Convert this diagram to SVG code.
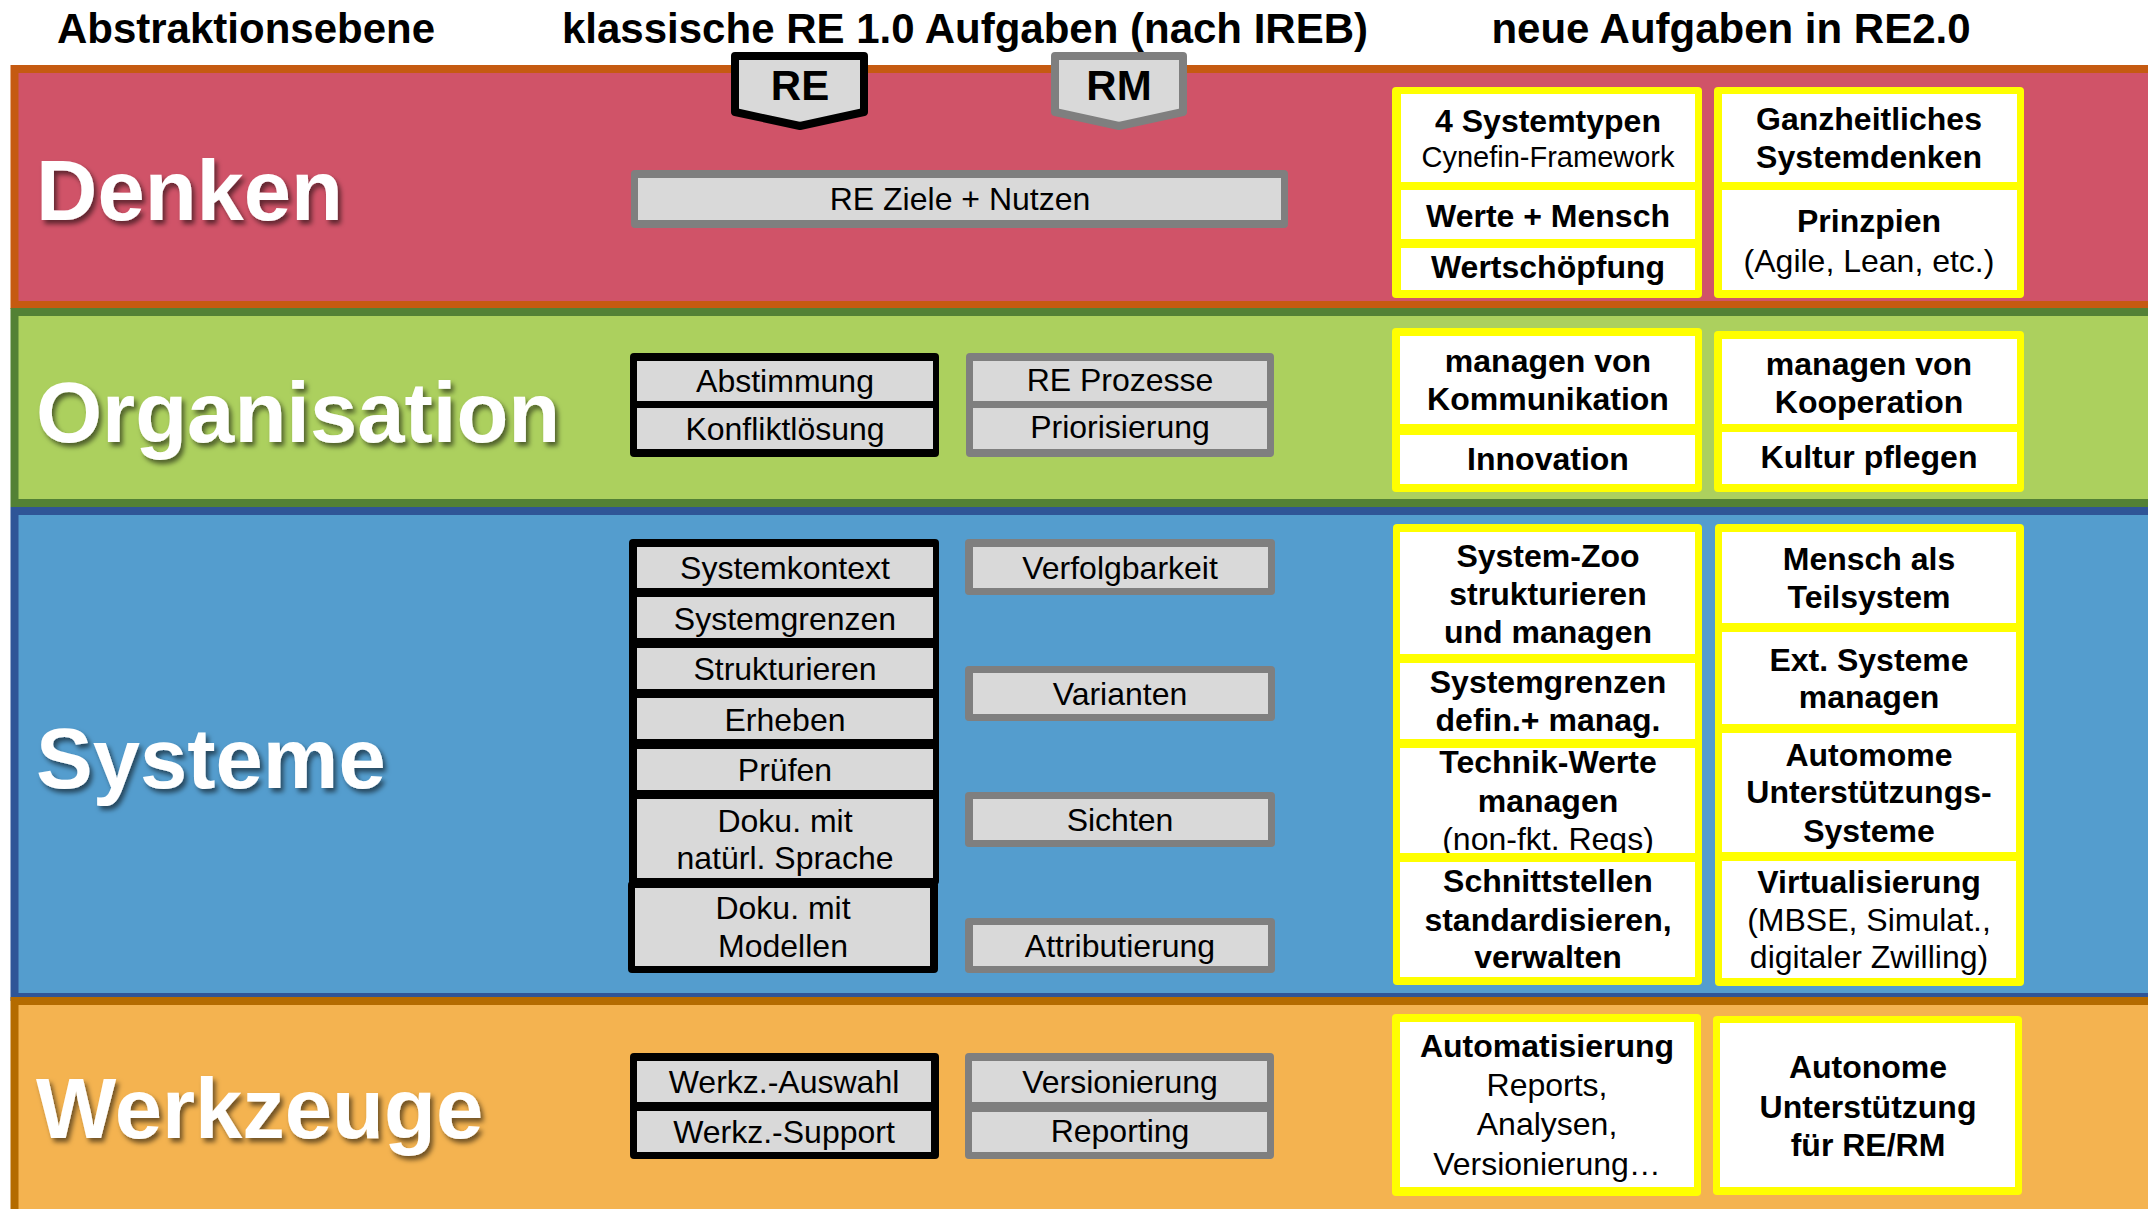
<svg xmlns="http://www.w3.org/2000/svg" width="2148" height="1209" viewBox="0 0 2148 1209">
<defs>
<style>
text{font-family:"Liberation Sans",Arial,sans-serif;fill:#000;text-anchor:middle}
.hd{font-size:42px;font-weight:bold}
.lvl{font-size:85px;font-weight:bold;fill:#fff;text-anchor:start;filter:url(#sh)}
.r{font-size:32px}
.b{font-size:32px;font-weight:bold}
.sm{font-size:29px}
.cell{fill:#D9D9D9}
.wc{fill:#fff}
.yf{fill:#FFFF00}
.bf{fill:#000}
.gf{fill:#7F7F7F}
</style>
<filter id="sh" x="-10%" y="-20%" width="130%" height="150%">
<feDropShadow dx="3" dy="4" stdDeviation="2.5" flood-color="#000" flood-opacity="0.55"/>
</filter>
<clipPath id="c3"><rect x="1400" y="748" width="295" height="105"/></clipPath>
</defs>
<rect width="2148" height="1209" fill="#fff"/>

<g id="bands">
<rect x="14.5" y="69" width="2200" height="236" fill="#D05368" stroke="#C55A11" stroke-width="8"/>
<rect x="14.5" y="312" width="2200" height="191" fill="#ACD05E" stroke="#538135" stroke-width="8"/>
<rect x="14.5" y="511" width="2200" height="486" fill="#549DCE" stroke="#2F5597" stroke-width="8"/>
<rect x="14.5" y="1001" width="2200" height="220" fill="#F4B350" stroke="#B46B00" stroke-width="8"/>
</g>

<g id="headers">
<text class="hd" x="246" y="43">Abstraktionsebene</text>
<text class="hd" x="965" y="43">klassische RE 1.0 Aufgaben (nach IREB)</text>
<text class="hd" x="1731" y="43">neue Aufgaben in RE2.0</text>
</g>

<g id="levels">
<text class="lvl" x="36" y="220">Denken</text>
<text class="lvl" x="36" y="442">Organisation</text>
<text class="lvl" x="36" y="788">Systeme</text>
<text class="lvl" x="36" y="1138">Werkzeuge</text>
</g>

<g id="badge-RE">
<path d="M735,56 H864 V112 L800,126 L735,112 Z" fill="#D9D9D9" stroke="#000" stroke-width="8" stroke-linejoin="round"/>
<text class="hd" x="800" y="100">RE</text>
</g>
<g id="badge-RM">
<path d="M1055,56 H1183 V112 L1119,126 L1055,112 Z" fill="#D9D9D9" stroke="#7F7F7F" stroke-width="8" stroke-linejoin="round"/>
<text class="hd" x="1119" y="100">RM</text>
</g>

<g id="denken-re">
<rect class="gf" x="631" y="170" width="657" height="58" rx="4"/>
<rect class="cell" x="638" y="178" width="643" height="42"/>
<text class="r" x="960" y="210">RE Ziele + Nutzen</text>
</g>

<g id="denken-neu-1">
<rect class="yf" x="1392" y="87" width="310" height="211" rx="4"/>
<rect class="wc" x="1401" y="94" width="294" height="88"/>
<rect class="wc" x="1401" y="190" width="294" height="49"/>
<rect class="wc" x="1401" y="248" width="294" height="42"/>
<text class="b" x="1548" y="132">4 Systemtypen</text>
<text class="sm" x="1548" y="167">Cynefin-Framework</text>
<text class="b" x="1548" y="227">Werte + Mensch</text>
<text class="b" x="1548" y="278">Wertschöpfung</text>
</g>
<g id="denken-neu-2">
<rect class="yf" x="1714" y="87" width="310" height="211" rx="4"/>
<rect class="wc" x="1722" y="94" width="295" height="88"/>
<rect class="wc" x="1722" y="190" width="295" height="100"/>
<text class="b" x="1869" y="130">Ganzheitliches</text>
<text class="b" x="1869" y="168">Systemdenken</text>
<text class="b" x="1869" y="232">Prinzpien</text>
<text class="r" x="1869" y="272">(Agile, Lean, etc.)</text>
</g>

<g id="org-re">
<rect class="bf" x="630" y="353" width="309" height="104" rx="4"/>
<rect class="cell" x="637" y="361" width="296" height="40"/>
<rect class="cell" x="637" y="408" width="296" height="41"/>
<text class="r" x="785" y="392">Abstimmung</text>
<text class="r" x="785" y="440">Konfliktlösung</text>
</g>
<g id="org-rm">
<rect class="gf" x="966" y="353" width="308" height="104" rx="4"/>
<rect class="cell" x="973" y="361" width="294" height="40"/>
<rect class="cell" x="973" y="408" width="294" height="41"/>
<text class="r" x="1120" y="391">RE Prozesse</text>
<text class="r" x="1120" y="438">Priorisierung</text>
</g>
<g id="org-neu-1">
<rect class="yf" x="1392" y="328" width="310" height="164" rx="4"/>
<rect class="wc" x="1400" y="336" width="295" height="88"/>
<rect class="wc" x="1400" y="435" width="295" height="49"/>
<text class="b" x="1548" y="372">managen von</text>
<text class="b" x="1548" y="410">Kommunikation</text>
<text class="b" x="1548" y="470">Innovation</text>
</g>
<g id="org-neu-2">
<rect class="yf" x="1714" y="331" width="310" height="161" rx="4"/>
<rect class="wc" x="1722" y="339" width="295" height="85"/>
<rect class="wc" x="1722" y="432" width="295" height="52"/>
<text class="b" x="1869" y="375">managen von</text>
<text class="b" x="1869" y="413">Kooperation</text>
<text class="b" x="1869" y="468">Kultur pflegen</text>
</g>

<g id="sys-re">
<rect class="bf" x="629" y="539" width="310" height="346" rx="4"/>
<rect class="cell" x="637" y="547" width="296" height="41"/>
<rect class="cell" x="637" y="597" width="296" height="41"/>
<rect class="cell" x="637" y="648" width="296" height="41"/>
<rect class="cell" x="637" y="698" width="296" height="41"/>
<rect class="cell" x="637" y="749" width="296" height="41"/>
<rect class="cell" x="637" y="799" width="296" height="79"/>
<text class="r" x="785" y="579">Systemkontext</text>
<text class="r" x="785" y="630">Systemgrenzen</text>
<text class="r" x="785" y="680">Strukturieren</text>
<text class="r" x="785" y="731">Erheben</text>
<text class="r" x="785" y="781">Prüfen</text>
<text class="r" x="785" y="832">Doku. mit</text>
<text class="r" x="785" y="869">natürl. Sprache</text>
</g>
<g id="sys-re-modelle">
<rect class="bf" x="628" y="881" width="310" height="92" rx="4"/>
<rect class="cell" x="635" y="888" width="295" height="78"/>
<text class="r" x="783" y="919">Doku. mit</text>
<text class="r" x="783" y="957">Modellen</text>
</g>
<g id="sys-rm">
<rect class="gf" x="965" y="539" width="310" height="56" rx="4"/>
<rect class="cell" x="973" y="547" width="295" height="41"/>
<text class="r" x="1120" y="579">Verfolgbarkeit</text>
<rect class="gf" x="965" y="666" width="310" height="55" rx="4"/>
<rect class="cell" x="973" y="673" width="295" height="41"/>
<text class="r" x="1120" y="705">Varianten</text>
<rect class="gf" x="965" y="792" width="310" height="55" rx="4"/>
<rect class="cell" x="973" y="799" width="295" height="41"/>
<text class="r" x="1120" y="831">Sichten</text>
<rect class="gf" x="965" y="918" width="310" height="55" rx="4"/>
<rect class="cell" x="973" y="925" width="295" height="41"/>
<text class="r" x="1120" y="957">Attributierung</text>
</g>
<g id="sys-neu-1">
<rect class="yf" x="1393" y="524" width="309" height="461" rx="4"/>
<rect class="wc" x="1400" y="532" width="295" height="122"/>
<rect class="wc" x="1400" y="663" width="295" height="76"/>
<rect class="wc" x="1400" y="748" width="295" height="105"/>
<rect class="wc" x="1400" y="862" width="295" height="115"/>
<text class="b" x="1548" y="567">System-Zoo</text>
<text class="b" x="1548" y="605">strukturieren</text>
<text class="b" x="1548" y="643">und managen</text>
<text class="b" x="1548" y="693">Systemgrenzen</text>
<text class="b" x="1548" y="731">defin.+ manag.</text>
<text class="b" x="1548" y="773">Technik-Werte</text>
<text class="b" x="1548" y="812">managen</text>
<text class="r" x="1548" y="850" clip-path="url(#c3)">(non-fkt. Reqs)</text>
<text class="b" x="1548" y="892">Schnittstellen</text>
<text class="b" x="1548" y="931">standardisieren,</text>
<text class="b" x="1548" y="968">verwalten</text>
</g>
<g id="sys-neu-2">
<rect class="yf" x="1715" y="524" width="309" height="462" rx="4"/>
<rect class="wc" x="1722" y="532" width="294" height="91"/>
<rect class="wc" x="1722" y="632" width="294" height="92"/>
<rect class="wc" x="1722" y="733" width="294" height="119"/>
<rect class="wc" x="1722" y="861" width="294" height="117"/>
<text class="b" x="1869" y="570">Mensch als</text>
<text class="b" x="1869" y="608">Teilsystem</text>
<text class="b" x="1869" y="671">Ext. Systeme</text>
<text class="b" x="1869" y="708">managen</text>
<text class="b" x="1869" y="766">Automome</text>
<text class="b" x="1869" y="803">Unterstützungs-</text>
<text class="b" x="1869" y="842">Systeme</text>
<text class="b" x="1869" y="893">Virtualisierung</text>
<text class="r" x="1869" y="931">(MBSE, Simulat.,</text>
<text class="r" x="1869" y="968">digitaler Zwilling)</text>
</g>

<g id="wz-re">
<rect class="bf" x="630" y="1053" width="309" height="106" rx="4"/>
<rect class="cell" x="637" y="1061" width="294" height="41"/>
<rect class="cell" x="637" y="1111" width="294" height="41"/>
<text class="r" x="784" y="1093">Werkz.-Auswahl</text>
<text class="r" x="784" y="1143">Werkz.-Support</text>
</g>
<g id="wz-rm">
<rect class="gf" x="965" y="1053" width="309" height="106" rx="4"/>
<rect class="cell" x="972" y="1061" width="295" height="41"/>
<rect class="cell" x="972" y="1112" width="295" height="40"/>
<text class="r" x="1120" y="1093">Versionierung</text>
<text class="r" x="1120" y="1142">Reporting</text>
</g>
<g id="wz-neu-1">
<rect class="yf" x="1392" y="1014" width="309" height="182" rx="4"/>
<rect class="wc" x="1400" y="1022" width="294" height="165"/>
<text class="b" x="1547" y="1057">Automatisierung</text>
<text class="r" x="1547" y="1096">Reports,</text>
<text class="r" x="1547" y="1135">Analysen,</text>
<text class="r" x="1547" y="1175">Versionierung…</text>
</g>
<g id="wz-neu-2">
<rect class="yf" x="1713" y="1016" width="309" height="179" rx="4"/>
<rect class="wc" x="1720" y="1023" width="295" height="164"/>
<text class="b" x="1868" y="1078">Autonome</text>
<text class="b" x="1868" y="1118">Unterstützung</text>
<text class="b" x="1868" y="1156">für RE/RM</text>
</g>
<g id="connectors"/>
</svg>
